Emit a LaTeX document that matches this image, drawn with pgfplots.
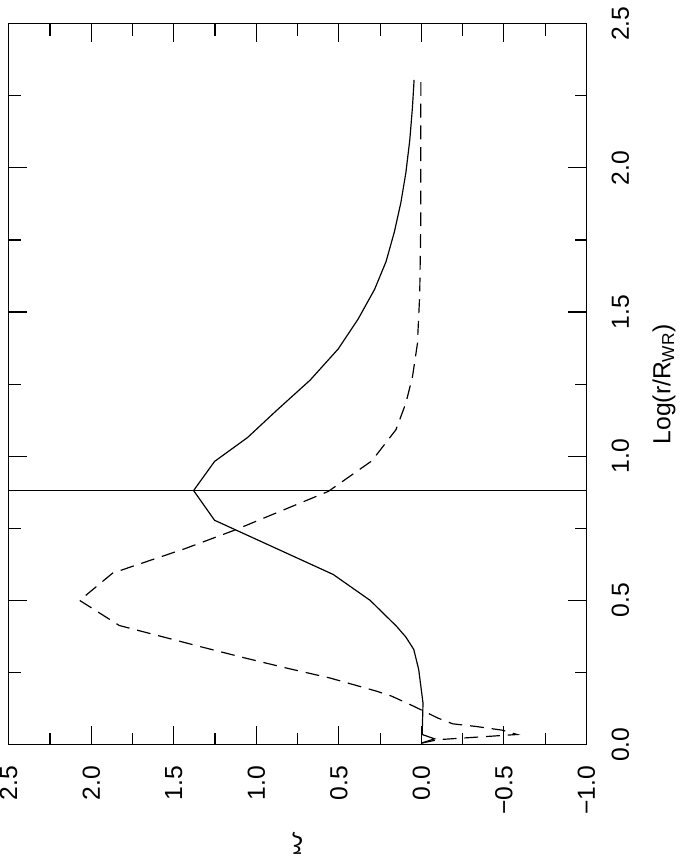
\documentclass[border=0pt]{standalone}
\usepackage{graphicx}
\usepackage{fontspec}
\setmainfont{Liberation Sans}
\usepackage{pgfplots}
\pgfplotsset{compat=1.18}

\begin{document}
\rotatebox{90}{%
\begin{tikzpicture}
\begin{axis}[
    scale only axis,
    width=365pt, height=292.5pt,
    xmin=0, xmax=2.5,
    ymin=-1, ymax=2.5,
    xtick={0,0.5,...,2.5},
    ytick={-1,-0.5,...,2.5},
    xticklabels={0.0,0.5,1.0,1.5,2.0,2.5},
    yticklabels={−1.0,−0.5,0.0,0.5,1.0,1.5,2.0,2.5},
    minor tick num=1,
    major tick length=9.5pt,
    minor tick length=6pt,
    tick style={black, line width=0.6pt},
    axis line style={line width=0.6pt},
    tick label style={font=\fontsize{12.5}{15}\selectfont},
    label style={font=\fontsize{12.5}{15}\selectfont},
    xticklabel style={anchor=base, yshift=-21.5pt},
    yticklabel style={anchor=east, inner sep=0pt, xshift=-10.5pt},
    xlabel={Log(r/R\textsubscript{WR})},
    xlabel style={at={(axis description cs:0.5,0)}, anchor=base, yshift=-42.5pt},
    ylabel={ξ},
    ylabel style={at={(axis description cs:-0.137,0.5)}, anchor=center},
]
% solid curve
\addplot[black, line width=0.6pt] coordinates {
    (0.005,0.0) (0.02,-0.08) (0.035,-0.005) (0.144,-0.01) (0.26,0.016)
    (0.33,0.046) (0.373,0.094) (0.41,0.15) (0.5,0.31) (0.59,0.534)
    (0.778,1.253) (0.881,1.38) (0.982,1.253) (1.065,1.053) (1.161,0.873)
    (1.264,0.674) (1.372,0.504) (1.475,0.384) (1.578,0.284) (1.675,0.214)
    (1.777,0.164) (1.88,0.124) (1.983,0.094) (2.097,0.07) (2.21,0.054)
    (2.305,0.044)
};
% dashed curve
\addplot[black, line width=0.6pt, dash pattern=on 7pt off 4pt] coordinates {
    (0.005,0.0) (0.017,-0.10) (0.035,-0.58) (0.05,-0.49) (0.063,-0.33)
    (0.072,-0.19) (0.092,-0.10) (0.134,0.05) (0.168,0.18) (0.185,0.27)
    (0.231,0.554) (0.265,0.814) (0.301,1.073) (0.339,1.334) (0.413,1.83)
    (0.50,2.07) (0.595,1.87) (0.68,1.43) (0.744,1.13) (0.878,0.564)
    (0.984,0.30) (1.092,0.154) (1.184,0.094) (1.275,0.054) (1.39,0.024)
    (1.56,0.01) (1.79,0.004) (2.305,0.003)
};
% vertical marker
\addplot[black, line width=0.6pt] coordinates {(0.88,-1) (0.88,2.5)};
\end{axis}
\path (current axis.south west) ++(-56pt,-46.5pt) rectangle
      ([shift={(9.5pt,4pt)}]current axis.north east);
\end{tikzpicture}%
}
\end{document}
